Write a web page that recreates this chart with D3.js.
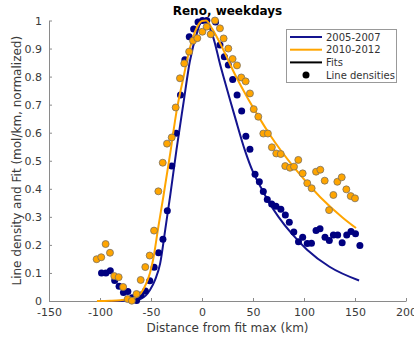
<!DOCTYPE html>
<html>
<head>
<meta charset="utf-8">
<script src="https://cdn.jsdelivr.net/npm/d3@7"></script>
<style>
  html, body { margin: 0; padding: 0; background: #fff; }
  svg { display: block; font-family: "DejaVu Sans", sans-serif; }
</style>
</head>
<body>
<svg id="chart" width="414" height="340"></svg>
<script>
// ---------- data ----------
const xTicks = [-150, -100, -50, 0, 50, 100, 150, 200];
const yTicks = [0, 0.1, 0.2, 0.3, 0.4, 0.5, 0.6, 0.7, 0.8, 0.9, 1];
const seriesNames = ["2005-2007", "2010-2012"];

// 2005-2007 line densities
const blueX = [-98.5, -94.2, -89.9, -85.6, -81.3, -77.0, -72.7, -68.4, -64.1, -59.8, -55.5, -51.2, -46.9, -42.6, -38.3, -34.0, -29.7, -25.4, -21.1, -16.8, -12.5, -8.2, -3.9, 0.4, 4.7, 9.0, 13.3, 17.6, 21.9, 25.8, 30.1, 34.4, 38.9, 43.0, 47.0, 52.0, 56.2, 60.1, 64.0, 68.3, 72.5, 77.3, 81.7, 85.6, 90.0, 94.6, 98.7, 103.2, 107.3, 111.8, 115.7, 120.6, 124.8, 128.8, 133.0, 137.4, 141.9, 146.1, 150.5, 154.8];
const blueY = [0.100, 0.100, 0.108, 0.073, 0.053, 0.030, 0.034, 0.012, 0.002, 0.021, 0.036, 0.072, 0.120, 0.172, 0.220, 0.322, 0.481, 0.598, 0.734, 0.860, 0.942, 0.970, 0.995, 1.000, 1.000, 0.952, 0.995, 0.913, 0.871, 0.841, 0.790, 0.734, 0.677, 0.587, 0.541, 0.452, 0.425, 0.390, 0.362, 0.346, 0.338, 0.327, 0.307, 0.281, 0.246, 0.211, 0.227, 0.205, 0.206, 0.251, 0.258, 0.227, 0.216, 0.235, 0.235, 0.208, 0.235, 0.248, 0.240, 0.198];

// 2010-2012 line densities
const orangeX = [-103.3, -98.8, -94.5, -90.2, -86.0, -81.7, -77.3, -72.9, -68.8, -64.2, -60.1, -55.6, -51.3, -47.0, -42.8, -38.5, -34.3, -29.7, -25.8, -21.6, -17.4, -12.6, -8.8, -4.6, 0.4, 4.6, 8.5, 12.7, 17.6, 21.2, 25.8, 30.0, 34.3, 38.5, 42.8, 47.0, 50.7, 55.2, 60.1, 64.6, 68.5, 72.8, 77.2, 81.6, 86.3, 90.2, 94.4, 98.7, 103.2, 107.5, 111.8, 116.0, 120.3, 124.6, 128.8, 132.7, 137.0, 141.5, 145.8, 150.0];
const orangeY = [0.149, 0.156, 0.203, 0.172, 0.089, 0.085, 0.050, 0.007, 0.001, 0.025, 0.075, 0.121, 0.162, 0.251, 0.391, 0.493, 0.561, 0.583, 0.690, 0.794, 0.847, 0.889, 0.928, 0.937, 0.960, 0.978, 0.951, 1.000, 0.972, 0.936, 0.900, 0.863, 0.840, 0.797, 0.783, 0.740, 0.684, 0.657, 0.597, 0.597, 0.548, 0.526, 0.524, 0.481, 0.475, 0.479, 0.503, 0.455, 0.420, 0.402, 0.461, 0.468, 0.429, 0.324, 0.378, 0.425, 0.441, 0.398, 0.374, 0.366];

// fits
const blueFitX = [-101, -90, -80, -70, -64, -60, -55, -51, -46, -41, -36, -31, -25, -18, -12, -5, 0, 4, 11, 18, 21, 28, 32, 42, 50, 57, 65, 75, 88, 103, 125, 154];
const blueFitY = [0, 0, 0, 0.002, 0.004, 0.008, 0.02, 0.039, 0.075, 0.134, 0.255, 0.38, 0.54, 0.71, 0.853, 0.955, 1.0, 0.995, 0.94, 0.84, 0.80, 0.71, 0.66, 0.538, 0.46, 0.41, 0.356, 0.30, 0.24, 0.183, 0.122, 0.073];
const orangeFitX = [-103, -90, -80, -70, -64, -60, -55, -51, -48, -43, -38, -31, -25, -18, -12, -5, 0, 4, 10, 21, 32, 44, 55, 67, 90, 116, 138, 151];
const orangeFitY = [0, 0.001, 0.003, 0.008, 0.015, 0.027, 0.06, 0.1, 0.146, 0.26, 0.37, 0.53, 0.675, 0.80, 0.90, 0.975, 0.998, 1.0, 0.97, 0.895, 0.81, 0.728, 0.66, 0.59, 0.477, 0.37, 0.297, 0.26];

// ---------- drawing ----------
const svg = d3.select("#chart");
const x = d3.scaleLinear().domain([-150, 200]).range([49, 406]);
const y = d3.scaleLinear().domain([0, 1]).range([301, 20.5]);

const blueLine = "#14148f", bluePt = "#000080";
const orange = "#ffa500";

const fmt = d => String(d);

const gx = svg.append("g").attr("transform", "translate(0,301)")
  .call(d3.axisBottom(x).tickValues(xTicks).tickFormat(fmt).tickSizeInner(-3).tickSizeOuter(0).tickPadding(7));
const gy = svg.append("g").attr("transform", "translate(49,0)")
  .call(d3.axisLeft(y).tickValues(yTicks).tickFormat(fmt).tickSizeInner(-3).tickSizeOuter(0).tickPadding(7));
[gx, gy].forEach(g => {
  g.select(".domain").attr("stroke", "#8a8a8a").attr("stroke-width", 1);
  g.selectAll(".tick line").attr("stroke", "#8a8a8a");
  g.selectAll(".tick text").attr("fill", "#3a3a3a").style("font-size", "11px").style("font-family", "DejaVu Sans");
});

const line = d3.line().x(d => x(d[0])).y(d => y(d[1])).curve(d3.curveMonotoneX);
const plot = svg.append("g");

plot.append("path").datum(d3.zip(blueFitX, blueFitY)).attr("d", line)
  .attr("fill", "none").attr("stroke", blueLine).attr("stroke-width", 2);
plot.selectAll("circle.b").data(d3.zip(blueX, blueY)).join("circle").attr("class", "b")
  .attr("cx", d => x(d[0])).attr("cy", d => y(d[1])).attr("r", 3.5).attr("fill", bluePt);
plot.append("path").datum(d3.zip(orangeFitX, orangeFitY)).attr("d", line)
  .attr("fill", "none").attr("stroke", orange).attr("stroke-width", 2);
plot.selectAll("circle.o").data(d3.zip(orangeX, orangeY)).join("circle").attr("class", "o")
  .attr("cx", d => x(d[0])).attr("cy", d => y(d[1])).attr("r", 3.5)
  .attr("fill", orange).attr("stroke", "#7a7060").attr("stroke-width", 0.8);

// title & labels
svg.append("text").attr("x", 227.5).attr("y", 15).attr("text-anchor", "middle")
  .style("font-size", "12px").style("font-weight", "bold").attr("fill", "#000").text("Reno, weekdays");
svg.append("text").attr("x", 227.5).attr("y", 331.5).attr("text-anchor", "middle")
  .style("font-size", "12px").attr("fill", "#3a3a3a").text("Distance from fit max (km)");
svg.append("text").attr("transform", "translate(21,160.7) rotate(-90)").attr("text-anchor", "middle")
  .style("font-size", "12px").attr("fill", "#3a3a3a").text("Line density and Fit (mol/km, normalized)");

// legend
const lg = svg.append("g");
lg.append("rect").attr("x", 286.5).attr("y", 29.5).attr("width", 110).attr("height", 53)
  .attr("fill", "#fff").attr("stroke", "#999").attr("stroke-width", 1);
const items = [
  {label: seriesNames[0], color: blueLine, type: "line"},
  {label: seriesNames[1], color: orange, type: "line"},
  {label: "Fits", color: "#000", type: "line"},
  {label: "Line densities", color: "#000", type: "dot"}
];
items.forEach((it, i) => {
  const yy = 37 + i * 12.7;
  if (it.type === "line") {
    lg.append("line").attr("x1", 290).attr("x2", 322).attr("y1", yy).attr("y2", yy)
      .attr("stroke", it.color).attr("stroke-width", 2);
  } else {
    lg.append("circle").attr("cx", 306).attr("cy", yy).attr("r", 3.5).attr("fill", it.color);
  }
  lg.append("text").attr("x", 326).attr("y", yy + 3.6).style("font-size", "10px").attr("fill", "#333").text(it.label);
});
</script>
</body>
</html>
